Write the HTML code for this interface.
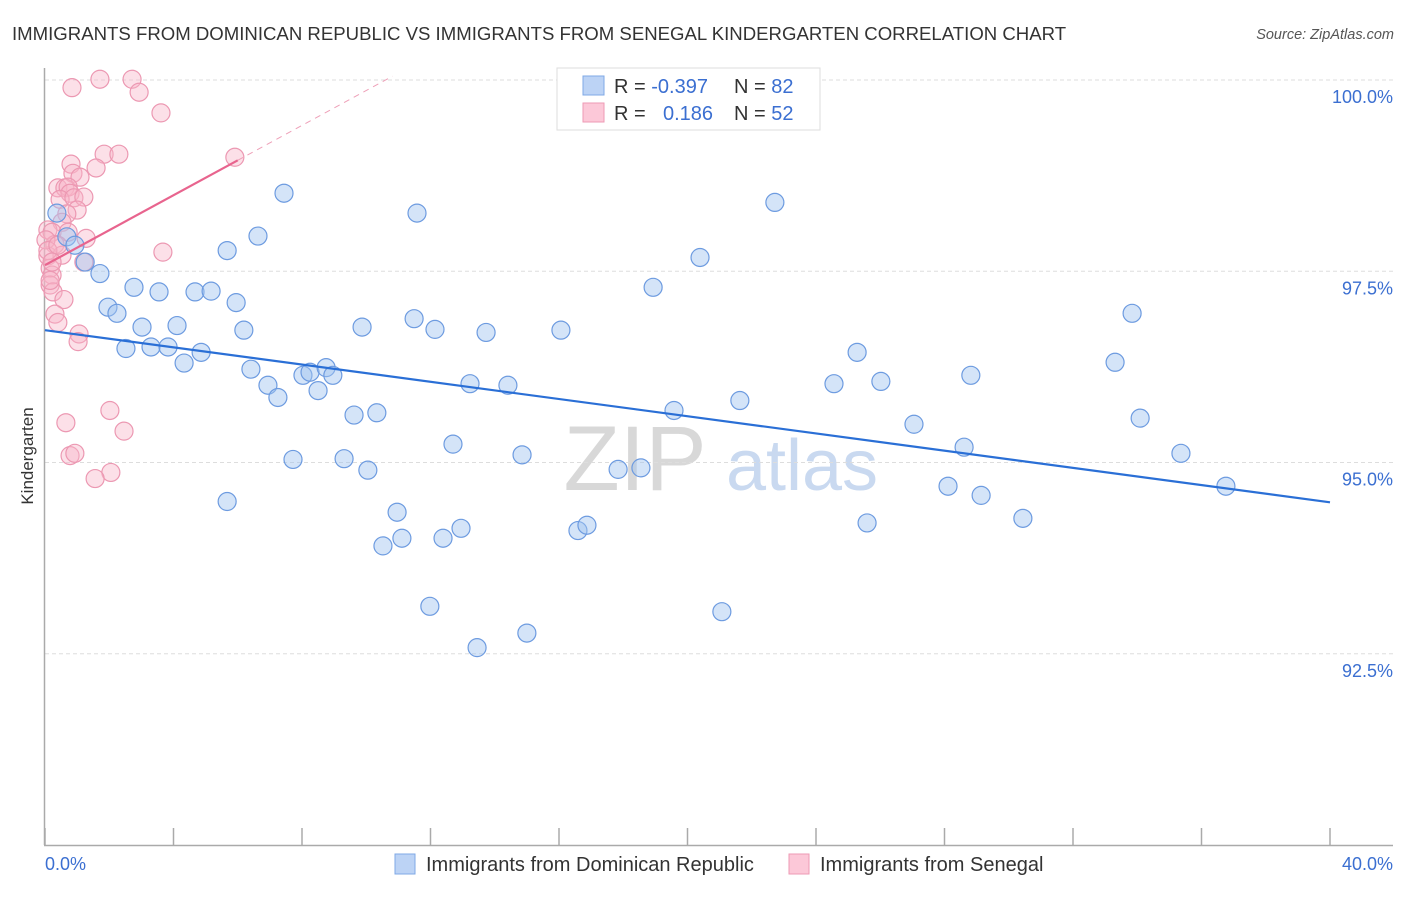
<!DOCTYPE html>
<html><head><meta charset="utf-8">
<style>
body{margin:0;background:#fff;font-family:"Liberation Sans",sans-serif;}
svg text{font-family:"Liberation Sans",sans-serif;}
</style></head>
<body>
<svg id="chart" width="1406" height="892" viewBox="0 0 1406 892" xmlns="http://www.w3.org/2000/svg">
<text x="12" y="40" font-size="18.6" fill="#333">IMMIGRANTS FROM DOMINICAN REPUBLIC VS IMMIGRANTS FROM SENEGAL KINDERGARTEN CORRELATION CHART</text>
<text x="1394" y="39" font-size="14.5" fill="#555" text-anchor="end" font-style="italic">Source: ZipAtlas.com</text>
<g>
<text x="635" y="490" font-size="92" fill="#d8d8d8" text-anchor="middle" font-family="Liberation Serif">ZIP</text>
<text x="802" y="490" font-size="72" fill="#c9d9f0" text-anchor="middle">atlas</text>
</g>
<g id="grid"></g>
<g id="axes"></g>
<g id="pinkpts"></g>
<g id="bluepts"></g>
<g id="trends"></g>
<text transform="translate(33,456) rotate(-90)" font-size="17" fill="#333" text-anchor="middle">Kindergarten</text>
<g>
<rect x="557" y="68" width="263" height="62" fill="#fff" stroke="#ddd"/>
<rect x="583" y="76" width="21" height="19" fill="#bcd3f5" stroke="#7fa8e6"/>
<rect x="583" y="103" width="21" height="19" fill="#fcc8d8" stroke="#ee9ab4"/>
<text x="614" y="93" font-size="20" fill="#333">R = <tspan fill="#3b6fd1">-0.397</tspan></text>
<text x="734" y="93" font-size="20" fill="#333">N = <tspan fill="#3b6fd1">82</tspan></text>
<text x="614" y="120" font-size="20" fill="#333">R = <tspan fill="#3b6fd1" x="663">0.186</tspan></text>
<text x="734" y="120" font-size="20" fill="#333">N = <tspan fill="#3b6fd1">52</tspan></text>
</g>
<g>
<rect x="395" y="854" width="20" height="20" fill="#bcd3f5" stroke="#7fa8e6"/>
<text x="426" y="871" font-size="20" fill="#333">Immigrants from Dominican Republic</text>
<rect x="789" y="854" width="20" height="20" fill="#fcc8d8" stroke="#ee9ab4"/>
<text x="820" y="871" font-size="20" fill="#333">Immigrants from Senegal</text>
</g>
</svg>
<script>
const xTicks=[0,4,8,12,16,20,24,28,32,36,40];
const yTicks=[92.5,95,97.5,100];
const yTickLabels=["92.5%","95.0%","97.5%","100.0%"];
const blueX=[0.37,0.68,0.93,1.25,1.71,1.96,2.24,2.52,2.77,3.02,3.30,3.55,3.83,4.11,4.33,4.67,4.86,5.17,5.67,5.67,5.95,6.19,6.41,6.63,6.94,7.25,7.44,7.72,8.03,8.25,8.50,8.75,8.96,9.31,9.62,9.87,10.05,10.33,10.52,10.96,11.11,11.58,11.49,11.98,12.14,12.39,12.70,12.95,13.23,13.45,13.73,14.41,14.85,15.00,16.06,16.59,16.87,17.84,18.55,18.93,19.58,20.39,21.07,21.63,22.72,24.56,25.28,25.59,26.02,27.05,28.11,28.61,28.82,29.14,30.44,33.31,33.84,34.09,35.36,36.76];
const blueY=[98.26,97.95,97.84,97.62,97.47,97.03,96.95,96.49,97.29,96.77,96.51,97.23,96.51,96.79,96.30,97.23,96.44,97.24,94.49,97.77,97.09,96.73,96.22,97.96,96.01,95.85,98.52,95.04,96.14,96.18,95.94,96.24,96.14,95.05,95.62,96.77,94.90,95.65,93.91,94.35,94.01,98.26,96.88,93.12,96.74,94.01,95.24,94.14,96.03,92.58,96.70,96.01,95.10,92.77,96.73,94.11,94.18,94.91,94.93,97.29,95.68,97.68,93.05,95.81,98.40,96.03,96.44,94.21,96.06,95.50,94.69,95.20,96.14,94.57,94.27,96.31,96.95,95.58,95.12,94.69];
const pinkX=[0.84,1.71,2.71,2.93,3.61,5.91,1.84,2.30,0.81,1.59,0.87,1.09,0.40,0.62,0.72,0.78,0.47,0.90,1.21,1.00,0.68,0.53,0.09,0.22,0.72,1.28,0.31,3.67,0.09,0.53,1.21,0.16,0.22,0.16,0.25,0.59,0.31,0.40,1.06,1.03,2.02,0.65,2.46,0.78,0.93,2.05,1.56,0.03,0.09,0.40,0.22,0.16];
const pinkY=[99.90,100.01,100.01,99.84,99.57,98.99,99.03,99.03,98.90,98.85,98.78,98.73,98.59,98.59,98.60,98.52,98.44,98.46,98.47,98.30,98.25,98.14,98.04,98.01,98.01,97.93,97.85,97.75,97.70,97.71,97.62,97.54,97.45,97.32,97.23,97.13,96.94,96.83,96.68,96.58,95.68,95.52,95.41,95.09,95.12,94.87,94.79,97.91,97.77,97.84,97.62,97.38];
const blueTrend=[96.73,94.48];
const pinkTrend=[97.58,98.95];
const NS="http://www.w3.org/2000/svg";
const X0=45,X1=1330,Y0=845,Y1=80;
function sx(v){return X0+(v-0)/(40-0)*(X1-X0);}
function sy(v){return Y0-(v-90)/(100-90)*(Y0-Y1);}
function mk(tag,attrs,parent){const e=document.createElementNS(NS,tag);for(const k in attrs)e.setAttribute(k,attrs[k]);parent.appendChild(e);return e;}
const grid=document.getElementById('grid');
yTicks.forEach((t,i)=>{
 const l=mk('line',{x1:45,x2:1393,y1:sy(t),y2:sy(t),stroke:'#ddd','stroke-dasharray':'4,3'},grid);
 
 
 const tx=mk('text',{x:1393,y:sy(t)+23,'font-size':'18',fill:'#3b6fd1','text-anchor':'end'},grid);
 tx.textContent=yTickLabels[i];
 
 
});
const axes=document.getElementById('axes');
const ya=mk('line',{x1:44.5,x2:44.5,y1:68,y2:845,stroke:'#aaa','stroke-width':1.5},axes);


const xa=mk('line',{x1:44,x2:1393,y1:845.5,y2:845.5,stroke:'#aaa','stroke-width':1.5},axes);


xTicks.forEach(t=>{
 const l=mk('line',{x1:sx(t),x2:sx(t),y1:828,y2:845,stroke:'#aaa','stroke-width':1.5},axes);
 
 
});
const xl0=mk('text',{x:45,y:870,'font-size':'18',fill:'#3b6fd1'},axes);xl0.textContent='0.0%';


const xl1=mk('text',{x:1393,y:870,'font-size':'18',fill:'#3b6fd1','text-anchor':'end'},axes);xl1.textContent='40.0%';


const bp=document.getElementById('bluepts');
blueX.forEach((x,i)=>{
 const c=mk('circle',{cx:sx(x),cy:sy(blueY[i]),r:9,fill:'rgba(160,195,240,0.45)',stroke:'#6d9be0','stroke-width':1.2},bp);
 
 
});
const pp=document.getElementById('pinkpts');
pinkX.forEach((x,i)=>{
 const c=mk('circle',{cx:sx(x),cy:sy(pinkY[i]),r:9,fill:'rgba(248,180,200,0.42)',stroke:'#ec98b2','stroke-width':1.2},pp);
 
 
});
const tr=document.getElementById('trends');
const bt=mk('line',{x1:sx(0),y1:sy(blueTrend[0]),x2:sx(40),y2:sy(blueTrend[1]),stroke:'#2a6fd6','stroke-width':2.2},tr);


const slope=(pinkTrend[1]-pinkTrend[0])/6;
const pt=mk('line',{x1:sx(0),y1:sy(pinkTrend[0]),x2:sx(6),y2:sy(pinkTrend[1]),stroke:'#e8648e','stroke-width':2.2},tr);


const xe=(100.05-pinkTrend[0])/slope;
const pd=mk('line',{x1:sx(6),y1:sy(pinkTrend[1]),x2:sx(xe),y2:sy(100.05),stroke:'#eea0b8','stroke-width':1,'stroke-dasharray':'6,5'},tr);


</script>
</body></html>
